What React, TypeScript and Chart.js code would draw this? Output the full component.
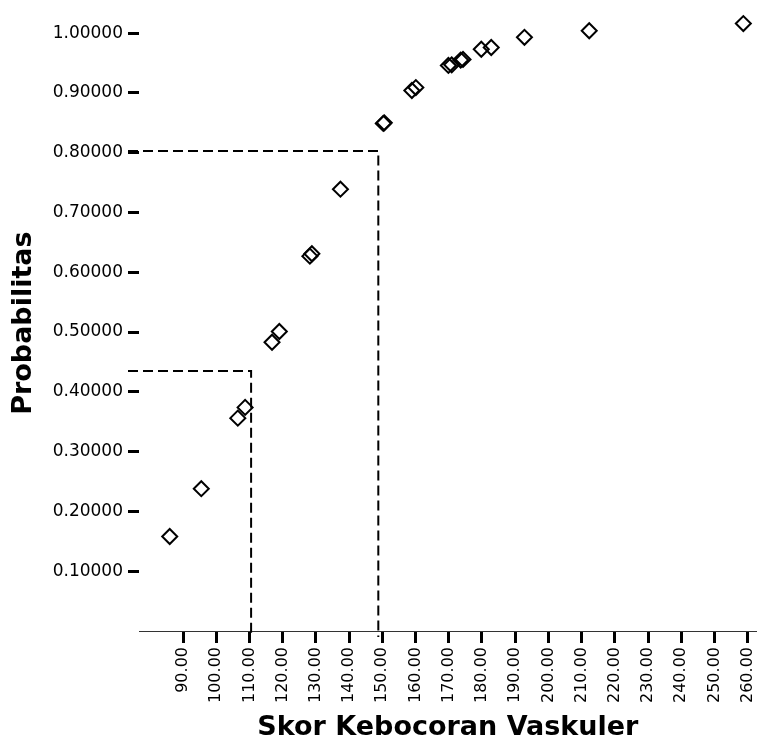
import React, { useEffect, useRef } from "react";
import { Chart, registerables } from "chart.js";

Chart.register(...registerables);

// Data (Skor Kebocoran Vaskuler vs Probabilitas)
const skor: number[] = [
  86, 95.5, 106.5, 108.7, 116.8, 119, 128.2, 128.8, 137.4, 150.3, 150.6,
  158.9, 160.1, 169.9, 170.9, 173.6, 174.3, 179.8, 182.8, 192.8, 212.3, 258.7,
];
const probabilitas: number[] = [
  0.158, 0.238, 0.356, 0.374, 0.483, 0.501, 0.627, 0.631, 0.739, 0.849, 0.85,
  0.904, 0.909, 0.946, 0.947, 0.955, 0.956, 0.973, 0.976, 0.993, 1.004, 1.016,
];

// Cut-off reference lines (dashed)
const cutoffSkor: number[] = [110.5, 148.8];
const cutoffProb: number[] = [0.435, 0.803];

// Tick labels
const xTickValues: number[] = [
  90, 100, 110, 120, 130, 140, 150, 160, 170, 180, 190, 200, 210, 220, 230,
  240, 250, 260,
];
const yTickValues: number[] = [0.1, 0.2, 0.3, 0.4, 0.5, 0.6, 0.7, 0.8, 0.9, 1.0];

const xTitle = "Skor Kebocoran Vaskuler";
const yTitle = "Probabilitas";

const cutoffPlugin = {
  id: "cutoffLines",
  afterDatasetsDraw(chart: any) {
    const { ctx, scales } = chart;
    const xs = scales.x;
    const ys = scales.y;
    const startX = chart.chartArea.left - 11;
    ctx.save();
    ctx.strokeStyle = "#000";
    ctx.lineWidth = 2;
    ctx.setLineDash([10, 5]);
    for (let i = 0; i < cutoffSkor.length; i++) {
      const px = xs.getPixelForValue(cutoffSkor[i]);
      const py = ys.getPixelForValue(cutoffProb[i]);
      const py0 = ys.getPixelForValue(0);
      ctx.beginPath();
      ctx.moveTo(startX, py);
      ctx.lineTo(px, py);
      ctx.lineTo(px, py0 + 6);
      ctx.stroke();
    }
    ctx.restore();
  },
};

export default function App() {
  const ref = useRef<HTMLCanvasElement | null>(null);

  useEffect(() => {
    document.body.style.margin = "0";
    const canvas = ref.current;
    if (!canvas) return;
    const chart = new Chart(canvas, {
      type: "scatter",
      data: {
        datasets: [
          {
            data: skor.map((x, i) => ({ x, y: probabilitas[i] })),
            pointStyle: "rectRot",
            pointRadius: 7.5,
            pointHoverRadius: 7.5,
            pointBorderWidth: 2,
            pointBorderColor: "#000",
            pointBackgroundColor: "rgba(0,0,0,0)",
          },
        ],
      },
      options: {
        responsive: false,
        animation: false,
        clip: false as any,
        layout: { padding: { top: 9, right: 0, bottom: 0, left: 0 } },
        plugins: {
          legend: { display: false },
          tooltip: { enabled: false },
        },
        scales: {
          x: {
            type: "linear",
            min: 76.75,
            max: 262.75,
            afterBuildTicks: (scale: any) => {
              scale.ticks = xTickValues.map((v) => ({ value: v }));
            },
            afterFit: (scale: any) => {
              scale.height = 113;
            },
            grid: {
              drawOnChartArea: false,
              drawTicks: true,
              tickLength: 12,
              tickWidth: 3,
              tickColor: "#000",
            },
            border: { display: true, color: "#333", width: 1, dash: [2, 2] },
            ticks: {
              autoSkip: false,
              maxRotation: 90,
              minRotation: 90,
              padding: 4,
              color: "#000",
              font: { family: "DejaVu Sans", size: 16 },
              callback: (v: any) => Number(v).toFixed(2),
            },
            title: {
              display: true,
              text: xTitle,
              color: "#000",
              padding: { top: 0, bottom: 0 },
              font: { family: "DejaVu Sans", size: 27, weight: "bold", lineHeight: 1.2 },
            },
          },
          y: {
            type: "linear",
            min: 0,
            max: 1.03,
            afterBuildTicks: (scale: any) => {
              scale.ticks = yTickValues.map((v) => ({ value: v }));
            },
            afterFit: (scale: any) => {
              scale.width = 139;
            },
            grid: {
              drawOnChartArea: false,
              drawTicks: true,
              tickLength: 11,
              tickWidth: 3,
              tickColor: "#000",
            },
            border: { display: false },
            ticks: {
              padding: 5,
              color: "#000",
              font: { family: "DejaVu Sans", size: 17 },
              callback: (v: any) => Number(v).toFixed(5),
            },
            title: {
              display: true,
              text: yTitle,
              color: "#000",
              padding: { top: 8, bottom: 0 },
              font: { family: "DejaVu Sans", size: 27, weight: "bold", lineHeight: 1.2 },
            },
          },
        },
      },
      plugins: [cutoffPlugin],
    });
    return () => chart.destroy();
  }, []);

  return (
    <div style={{ width: 771, height: 744, background: "#fff" }}>
      <canvas ref={ref} width={771} height={744} style={{ display: "block" }} />
    </div>
  );
}
